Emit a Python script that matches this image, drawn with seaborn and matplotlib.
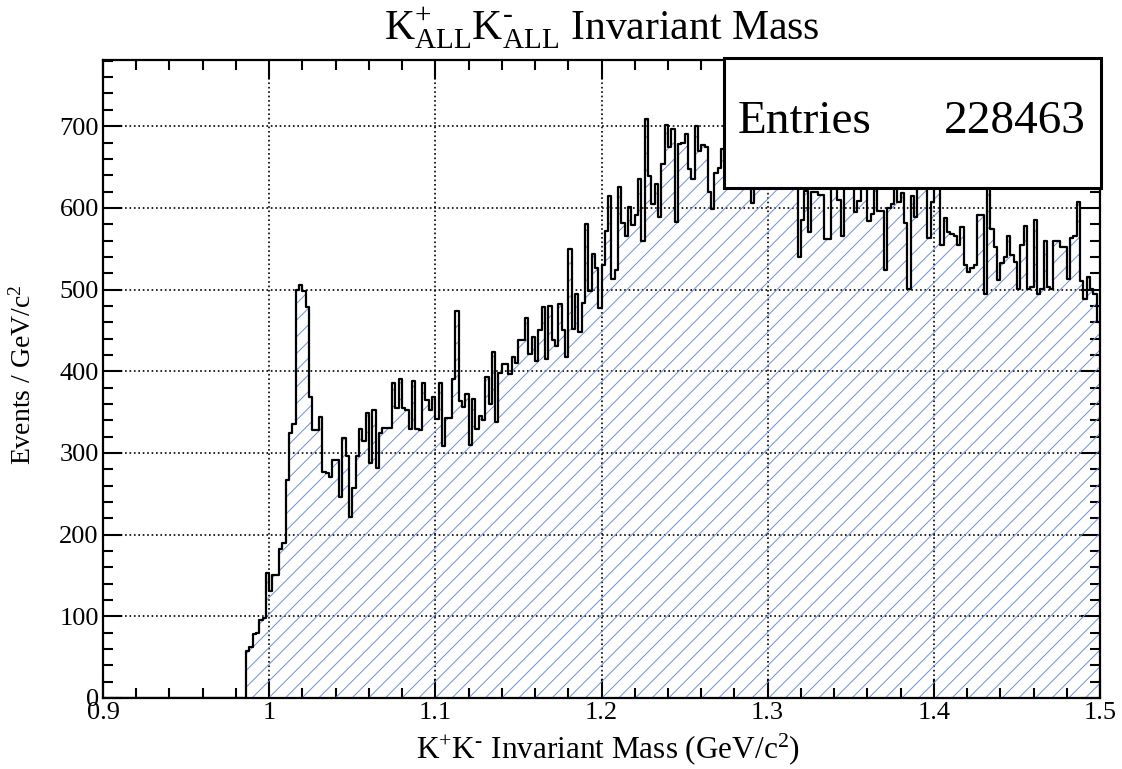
import numpy as np
import pandas as pd
import matplotlib
matplotlib.use("Agg")
import matplotlib.pyplot as plt
import seaborn as sns
from matplotlib.patches import Rectangle
from matplotlib.ticker import MultipleLocator, FuncFormatter

# bin contents (2 MeV bins), first filled bin at 0.986 GeV
counts_rise_phi = [58, 62, 78, 80, 96, 98, 153, 131, 151, 151, 182, 190, 267, 325, 335,
                   500, 505, 498, 479, 369, 328, 328, 344, 277, 276, 271, 291, 291]
counts_1040_1100 = [246, 318, 296, 222, 257, 296, 329, 315, 349, 288, 352, 282, 325, 331, 331,
                    331, 386, 355, 390, 355, 353, 329, 388, 329, 328, 386, 365, 353, 369]
counts_1100_1160 = [341, 386, 309, 343, 343, 391, 474, 364, 356, 372, 310, 366, 329, 345, 340,
                    393, 360, 423, 338, 398, 409, 409, 397, 418, 410, 438, 438, 465, 421, 442, 412]
counts_1160_1216 = [450, 479, 415, 480, 438, 431, 482, 451, 418, 550, 452, 494, 448, 483, 580,
                    498, 544, 526, 477, 530, 572, 615, 513, 524, 625, 581, 565, 601]
counts_1218_1272 = [579, 591, 635, 560, 709, 639, 605, 629, 589, 654, 701, 674, 696, 583, 678,
                    680, 690, 647, 635, 700, 670, 677, 674, 619, 599, 643, 649, 672]
# partly hidden behind the stats box
counts_1274_1324 = [660, 690, 650, 700, 645, 670, 640, 680, 606, 665, 690, 650, 740, 660, 640,
                    680, 655, 690, 640, 670, 650, 630, 540, 585, 621, 571]
counts_1326_1378 = [619, 619, 616, 616, 562, 562, 645, 660, 610, 565, 665, 640, 650, 595, 608,
                    660, 635, 584, 593, 650, 596, 596, 524, 600, 605, 645, 607]
counts_1380_1432 = [618, 582, 501, 615, 589, 640, 655, 635, 563, 607, 660, 645, 554, 587, 570,
                    568, 565, 555, 577, 530, 522, 526, 530, 591, 591, 494, 625]
counts_1434_1500 = [574, 552, 512, 532, 540, 566, 542, 534, 501, 554, 578, 501, 503, 585, 494,
                    501, 560, 503, 501, 560, 559, 552, 552, 513, 563, 566, 607, 511, 489, 515,
                    501, 495, 460]

counts = (counts_rise_phi + counts_1040_1100 + counts_1100_1160 + counts_1160_1216
          + counts_1218_1272 + counts_1274_1324 + counts_1326_1378 + counts_1380_1432
          + counts_1434_1500)

n_entries = 228463
x_lo, x_hi, n_bins = 0.9, 1.5, 300
edges = np.linspace(x_lo, x_hi, n_bins + 1)
heights = np.zeros(n_bins)
heights[n_bins - len(counts):] = counts
centers = 0.5 * (edges[:-1] + edges[1:])
df = pd.DataFrame({"mass": centers, "events": heights})
bin_list = edges.tolist()

sns.set_theme(style="ticks")
plt.rcParams.update({
    "font.family": ["Liberation Serif", "DejaVu Serif"],
    "mathtext.fontset": "custom",
    "mathtext.rm": "Liberation Serif",
    "mathtext.it": "Liberation Serif:italic",
    "mathtext.bf": "Liberation Serif:bold",
    "hatch.linewidth": 0.7,
    "text.color": "black",
    "axes.labelcolor": "black",
})

hatch_color = "#6f8fd8"

fig = plt.figure(figsize=(11.22, 7.69), dpi=100)
W, H = 1122, 769
ax = fig.add_axes([103 / W, 1 - 698 / H, (1100 - 103) / W, (698 - 60) / H])

sns.histplot(data=df, x="mass", weights="events", bins=bin_list, element="step",
             fill=True, color=hatch_color, facecolor="none", edgecolor=hatch_color,
             hatch="//", linewidth=0, ax=ax)
sns.histplot(data=df, x="mass", weights="events", bins=bin_list, element="step",
             fill=False, color="black", linewidth=1.6, ax=ax)

ax.set_xlim(x_lo, x_hi)
ax.set_ylim(0, 781)
ax.set_xlabel("")
ax.set_ylabel("")

ax.xaxis.set_major_locator(MultipleLocator(0.1))
ax.xaxis.set_minor_locator(MultipleLocator(0.02))
ax.yaxis.set_major_locator(MultipleLocator(100))
ax.yaxis.set_minor_locator(MultipleLocator(20))
ax.xaxis.set_major_formatter(FuncFormatter(lambda v, p: "%g" % round(v, 3)))
ax.grid(True, which="major", linestyle=":", color="black", linewidth=1.2)
ax.tick_params(which="both", direction="in", top=True, right=True,
               labelsize=19, pad=3, width=1.5, colors="black")
ax.tick_params(which="major", length=14)
ax.tick_params(which="minor", length=7)
for s in ax.spines.values():
    s.set_linewidth(1.6)
    s.set_color("black")

fig.text((103 + 1100) / 2 / W, 1 - 28 / H,
         r"K$^{+}_{\mathrm{ALL}}$K$^{\text{-}}_{\mathrm{ALL}}$ Invariant Mass",
         ha="center", va="center", fontsize=30, color="black")
fig.text(608 / W, 1 - 749 / H,
         r"K$^{+}$K$^{\text{-}}$ Invariant Mass (GeV/c$^{2}$)",
         ha="center", va="center", fontsize=22.5, color="black")
fig.text(23 / W, 1 - 375 / H, r"Events / GeV/c$^{2}$", rotation=90,
         ha="center", va="center", fontsize=20, color="black")

# stats box
fig.add_artist(Rectangle((724 / W, 1 - 188 / H), (1101 - 724) / W, (188 - 58) / H,
                         transform=fig.transFigure, facecolor="white",
                         edgecolor="black", linewidth=2.2, zorder=5))
fig.text(738 / W, 1 - 122 / H, "Entries", ha="left", va="center",
         fontsize=34, zorder=6, color="black")
fig.text(1086 / W, 1 - 122 / H, str(n_entries), ha="right", va="center",
         fontsize=34, zorder=6, color="black")

fig.savefig("out.png", dpi=100)
